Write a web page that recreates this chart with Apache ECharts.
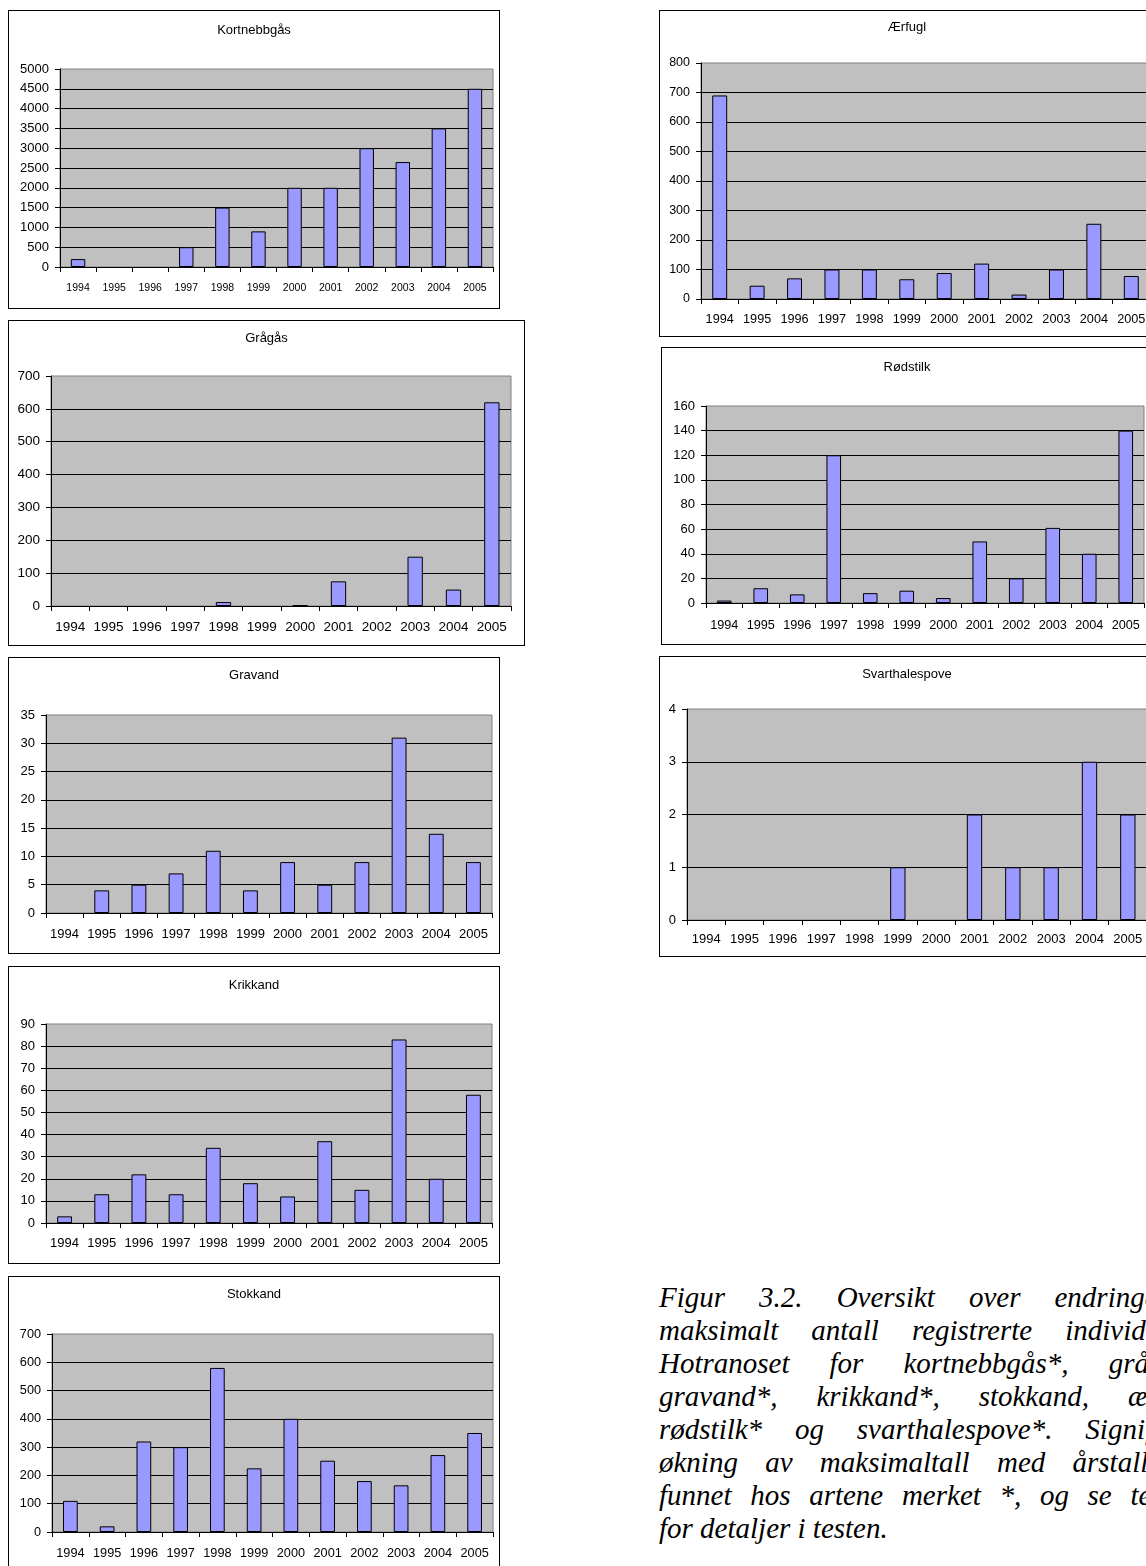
<!DOCTYPE html>
<html>
<head>
<meta charset="utf-8">
<script src="https://cdn.jsdelivr.net/npm/echarts@6/dist/echarts.min.js"></script>
<style>
html, body { margin:0; padding:0; background:#fff; overflow:hidden; width:1146px; height:1566px; }
#page { position:relative; width:1146px; height:1566px; overflow:hidden; }
.chart { position:absolute; }
.frame { position:absolute; border:1.5px solid #000; box-sizing:border-box; pointer-events:none; }
#caption { position:absolute; left:659px; top:1281px; width:552px; font-family:"Liberation Serif","Times New Roman",serif; font-style:italic; font-size:29px; line-height:33px; color:#000; }
#caption div { white-space:nowrap; display:flex; justify-content:space-between; }
#caption div.last { display:block; }
</style>
</head>
<body>
<div id="page"></div>
<script>
// ---- data ----
const years = ['1994','1995','1996','1997','1998','1999','2000','2001','2002','2003','2004','2005'];
const kortnebbgas = [200, 0, 0, 500, 1500, 900, 2000, 2000, 3000, 2650, 3500, 4500];
const gragas      = [0, 0, 0, 0, 12, 0, 2, 75, 0, 150, 50, 620];
const gravand     = [0, 4, 5, 7, 11, 4, 9, 5, 9, 31, 14, 9];
const krikkand    = [3, 13, 22, 13, 34, 18, 12, 37, 15, 83, 20, 58];
const stokkand    = [110, 20, 320, 300, 580, 225, 400, 252, 180, 165, 272, 350];
const aerfugl     = [690, 45, 70, 100, 100, 67, 88, 120, 15, 100, 255, 78];
const rodstilk    = [2, 12, 7, 120, 8, 10, 4, 50, 20, 61, 40, 140];
const svarthalespove = [0, 0, 0, 0, 0, 1, 0, 2, 1, 1, 3, 2];

const titles = ['Kortnebbgås','Grågås','Gravand','Krikkand','Stokkand','Ærfugl','Rødstilk','Svarthalespove'];
const yMax      = [5000, 700, 35, 90, 700, 800, 160, 4];
const yInterval = [500, 100, 5, 10, 100, 100, 20, 1];

const captionLines = [
  'Figur 3.2. Oversikt over endringer i',
  'maksimalt antall registrerte individer i',
  'Hotranoset for kortnebbgås*, grågås*,',
  'gravand*, krikkand*, stokkand, ærfugl,',
  'rødstilk* og svarthalespove*. Signifikant',
  'økning av maksimaltall med årstall ble',
  'funnet hos artene merket *, og se teksten',
  'for detaljer i testen.'
];

// ---- layout (page pixels) ----
const seriesData = [kortnebbgas, gragas, gravand, krikkand, stokkand, aerfugl, rodstilk, svarthalespove];
const layout = [
  {box:[8,10,500,309],    plot:[60,69,493,267],    titleY:30,  xFont:10.5, yFont:13, xMargin:16},
  {box:[8,320,525,646],   plot:[51,376,511,606],   titleY:338, xFont:13.5, yFont:13.5, xMargin:14},
  {box:[8,657,500,954],   plot:[46,715,492,913],   titleY:675, xFont:13, yFont:13, xMargin:15},
  {box:[8,966,500,1264],  plot:[46,1024,492,1223], titleY:985, xFont:13, yFont:13, xMargin:14},
  {box:[8,1276,500,1600], plot:[52,1334,493,1532], titleY:1294,xFont:12.7, yFont:12.7, xMargin:15},
  {box:[659,10,1155,337], plot:[701,63,1150,299],  titleY:27,  xFont:12.7, yFont:12.5, xMargin:14},
  {box:[661,347,1153,645],plot:[706,406,1144,603], titleY:367, xFont:12.7, yFont:13, xMargin:16},
  {box:[659,656,1155,957],plot:[687,709,1147,920], titleY:674, xFont:13, yFont:13, xMargin:13}
];

const page = document.getElementById('page');
const FONT = '"Liberation Sans", Arial, sans-serif';

layout.forEach((L, i) => {
  const [bx0, by0, bx1, by1] = L.box;
  const [px0, py0, px1, py1] = L.plot;
  const div = document.createElement('div');
  div.className = 'chart';
  div.style.left = bx0 + 'px';
  div.style.top = by0 + 'px';
  div.style.width = (bx1 - bx0) + 'px';
  div.style.height = (by1 - by0) + 'px';
  page.appendChild(div);
  const frame = document.createElement('div');
  frame.className = 'frame';
  frame.style.left = bx0 + 'px';
  frame.style.top = by0 + 'px';
  frame.style.width = (bx1 - bx0) + 'px';
  frame.style.height = (by1 - by0) + 'px';
  page.appendChild(frame);

  const chart = echarts.init(div, null, {renderer: 'canvas'});
  chart.setOption({
    animation: false,
    backgroundColor: '#ffffff',
    title: {
      text: titles[i],
      left: 'center',
      top: L.titleY - by0 - 6,
      padding: 0,
      textStyle: {fontFamily: FONT, fontSize: 13, fontWeight: 'normal', color: '#000'}
    },
    grid: {
      left: px0 - bx0, top: py0 - by0, width: px1 - px0, height: py1 - py0,
      show: true, backgroundColor: '#c0c0c0', borderColor: '#808080', borderWidth: 1,
      containLabel: false
    },
    xAxis: {
      type: 'category',
      data: years,
      boundaryGap: true,
      axisLine: {show: true, lineStyle: {color: '#000', width: 1}},
      axisTick: {show: true, interval: 0, length: 5, inside: false, lineStyle: {color: '#000'}},
      axisLabel: {interval: 0, margin: L.xMargin, fontFamily: FONT, fontSize: L.xFont, color: '#000'},
      splitLine: {show: false}
    },
    yAxis: {
      type: 'value',
      min: 0, max: yMax[i], interval: yInterval[i],
      axisLine: {show: true, lineStyle: {color: '#000', width: 1}},
      axisTick: {show: true, length: 5, inside: false, lineStyle: {color: '#000'}},
      axisLabel: {margin: 11, fontFamily: FONT, fontSize: L.yFont, color: '#000', formatter: v => String(v)},
      splitLine: {show: true, showMinLine: false, showMaxLine: false, lineStyle: {color: '#000', width: 1}}
    },
    series: [{
      type: 'bar',
      data: seriesData[i].map(v => v === 0 ? {value: 0, itemStyle: {borderWidth: 0, opacity: 0}} : v),
      barCategoryGap: '60%',
      itemStyle: {color: '#9999ff', borderColor: '#000', borderWidth: 1}
    }]
  });
});

// caption
const cap = document.createElement('div');
cap.id = 'caption';
captionLines.forEach((line, k) => {
  const d = document.createElement('div');
  if (k === captionLines.length - 1) {
    d.className = 'last';
    d.textContent = line;
  } else {
    line.split(' ').forEach(w => {
      const s = document.createElement('span');
      s.textContent = w;
      d.appendChild(s);
    });
  }
  cap.appendChild(d);
});
page.appendChild(cap);
</script>
</body>
</html>
